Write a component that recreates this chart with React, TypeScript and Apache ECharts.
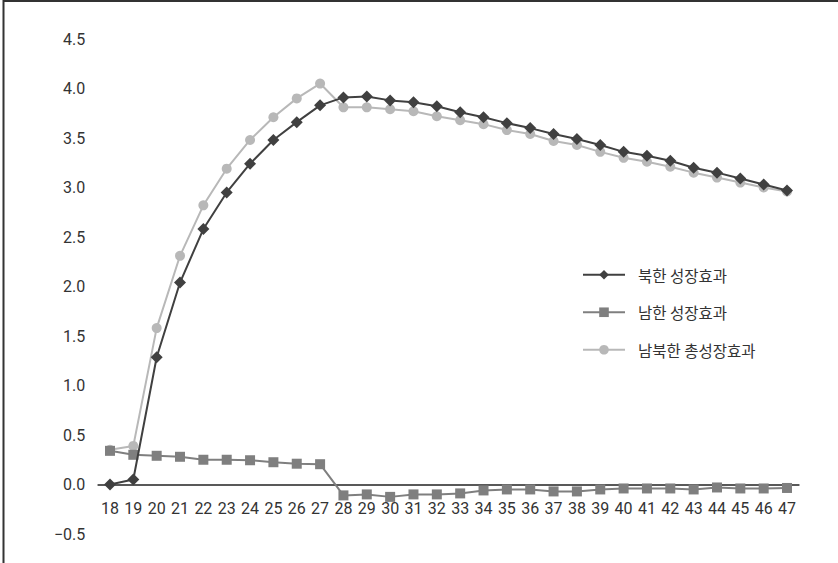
import React, { useEffect, useRef } from "react";
import * as echarts from "echarts";

const categories = ["18","19","20","21","22","23","24","25","26","27","28","29","30","31","32","33","34","35","36","37","38","39","40","41","42","43","44","45","46","47"];
const northValues = [0.0, 0.05, 1.285, 2.04, 2.58, 2.95, 3.24, 3.48, 3.66, 3.83, 3.91, 3.92, 3.88, 3.86, 3.82, 3.76, 3.71, 3.65, 3.60, 3.54, 3.49, 3.43, 3.36, 3.32, 3.27, 3.20, 3.15, 3.09, 3.03, 2.97];
const southValues = [0.34, 0.30, 0.29, 0.28, 0.25, 0.25, 0.245, 0.225, 0.21, 0.205, -0.11, -0.10, -0.125, -0.10, -0.10, -0.09, -0.06, -0.05, -0.05, -0.07, -0.07, -0.05, -0.04, -0.04, -0.04, -0.05, -0.03, -0.04, -0.04, -0.035];
const totalValues = [0.35, 0.39, 1.58, 2.31, 2.82, 3.19, 3.48, 3.71, 3.90, 4.05, 3.81, 3.81, 3.79, 3.77, 3.72, 3.68, 3.64, 3.58, 3.54, 3.47, 3.43, 3.36, 3.30, 3.26, 3.21, 3.15, 3.10, 3.05, 3.00, 2.96];
const seriesNames = ["북한 성장효과", "남한 성장효과", "남북한 총성장효과"];

export default function App() {
  const ref = useRef<HTMLDivElement>(null);
  useEffect(() => {
    if (!ref.current) return;
    const chart = echarts.init(ref.current, null, { renderer: "svg" });
    const font = "'Noto Sans CJK KR', 'Noto Sans', sans-serif";
    const numFont = "Roboto, 'Noto Sans', sans-serif";
    chart.setOption({
      animation: false,
      backgroundColor: "#ffffff",
      textStyle: { fontFamily: font },
      grid: { left: 98.3, right: 39.3, top: 39, bottom: 29, containLabel: false },
      legend: {
        orient: "vertical",
        left: 582,
        top: 267,
        padding: 0,
        itemWidth: 42,
        itemHeight: 12,
        itemGap: 22,
        data: seriesNames,
        textStyle: { fontSize: 15.5, color: "#333333", fontFamily: font, padding: [0, 0, 0, 8] },
      },
      xAxis: {
        type: "category",
        data: categories,
        boundaryGap: true,
        offset: -49.5,
        axisLine: { onZero: false, lineStyle: { color: "#595959", width: 2 } },
        axisTick: { show: false },
        axisLabel: { interval: 0, fontSize: 16, color: "#333333", margin: 16, fontFamily: numFont },
        splitLine: { show: false },
      },
      yAxis: {
        type: "value",
        min: -0.5,
        max: 4.5,
        interval: 0.5,
        axisLine: { show: false },
        axisTick: { show: false },
        splitLine: { show: false },
        axisLabel: {
          fontSize: 16,
          color: "#333333",
          margin: 13,
          fontFamily: numFont,
          formatter: (v: number) => (v < 0 ? "\u2212" + Math.abs(v).toFixed(1) : v.toFixed(1)),
        },
      },
      series: [
        {
          name: seriesNames[0],
          type: "line",
          data: northValues,
          symbol: "diamond",
          symbolSize: 12,
          itemStyle: { color: "#404040" },
          lineStyle: { color: "#404040", width: 2 },
          z: 3,
        },
        {
          name: seriesNames[1],
          type: "line",
          data: southValues,
          symbol: "rect",
          symbolSize: 10,
          itemStyle: { color: "#7f7f7f" },
          lineStyle: { color: "#7f7f7f", width: 2 },
          z: 2,
        },
        {
          name: seriesNames[2],
          type: "line",
          data: totalValues,
          symbol: "circle",
          symbolSize: 10,
          itemStyle: { color: "#b8b8b8" },
          lineStyle: { color: "#b8b8b8", width: 2 },
          z: 1,
        },
      ],
      graphic: [
        { type: "line", shape: { x1: 3.5, y1: 0, x2: 3.5, y2: 563 }, style: { stroke: "#333333", lineWidth: 2 }, silent: true },
        { type: "line", shape: { x1: 3, y1: 1, x2: 838, y2: 1 }, style: { stroke: "#333333", lineWidth: 2 }, silent: true },
      ],
    });
    return () => chart.dispose();
  }, []);
  return (
    <div
      ref={ref}
      style={{ position: "absolute", left: 0, top: 0, width: 838, height: 563 }}
    />
  );
}
